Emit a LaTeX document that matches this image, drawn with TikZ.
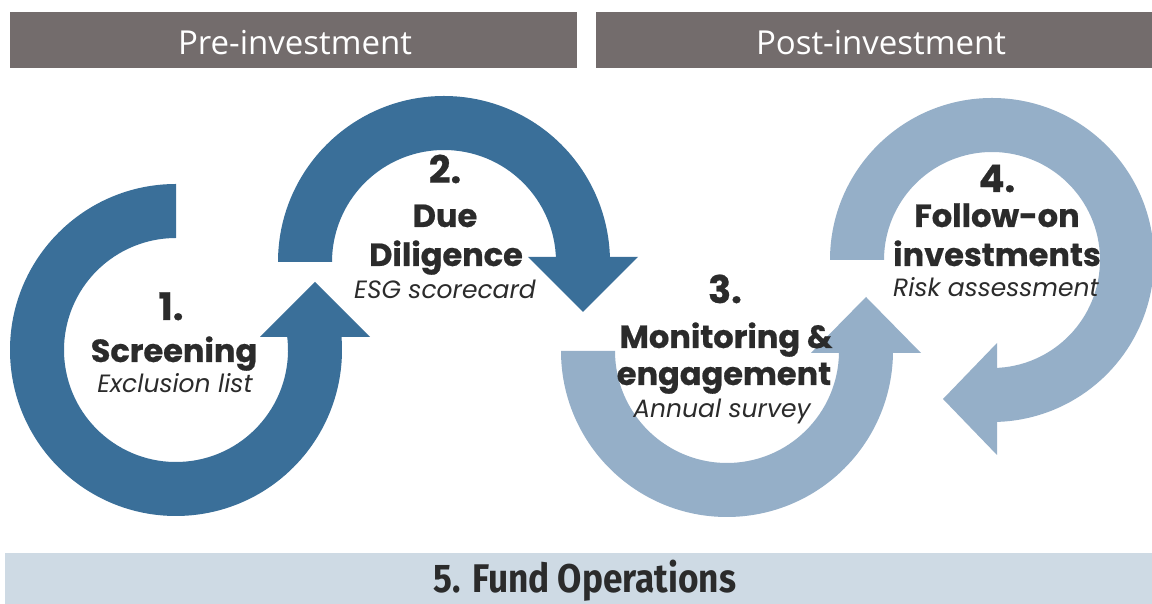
\documentclass[tikz,border=0pt]{standalone}
\usepackage{fontspec}
\setmainfont{Poppins}
\newfontfamily\heavyfont{Poppins}[BoldFeatures={FakeBold=0.6}]
\newfontfamily\headfont{Open Sans}
\newfontfamily\opsfont{Fira Sans}[FakeStretch=0.88]
\usetikzlibrary{calc}
\definecolor{dblue}{HTML}{3A6F99}
\definecolor{lblue}{HTML}{95AFC8}
\definecolor{hgray}{HTML}{736C6C}
\definecolor{bandblue}{HTML}{CEDAE4}
\definecolor{ink}{HTML}{2B2B2B}
\begin{document}
\begin{tikzpicture}[x=0.5pt,y=0.5pt,
  num/.style={anchor=base, inner sep=0pt, text=ink, font=\heavyfont\fontsize{19}{19}\selectfont\bfseries},
  ttl/.style={anchor=base, inner sep=0pt, text=ink, font=\heavyfont\fontsize{16}{16}\selectfont\bfseries},
  subt/.style={anchor=base, inner sep=0pt, text=ink, font=\fontsize{12.5}{12.5}\selectfont\itshape},
  hdrbox/.style={fill=hgray},
  hdrtxt/.style={anchor=base, inner sep=0pt, text=white, font=\headfont\fontsize{16.5}{16.5}\selectfont},
  optxt/.style={anchor=base, inner sep=0pt, text=ink, font=\opsfont\bfseries\fontsize{20}{20}\selectfont}]
\useasboundingbox (0,0) rectangle (1152,604);
\fill[white] (0,0) rectangle (1152,604);
% headers
\fill[hdrbox] (10,536) rectangle (577,592);
\fill[hdrbox] (596,536) rectangle (1152,592);
\node[hdrtxt] (pre) at (295,549) {Pre-investment};
\node[hdrtxt] (post) at (881,549) {Post-investment};
% bottom band
\fill[bandblue] (5,0) rectangle (1152,51);
\node[optxt] (ops) at (585,11) {5. Fund Operations};
% centres
\coordinate (c1) at (176,254);
\coordinate (c2) at (444,342);
\coordinate (c3) at (727,253);
\coordinate (c4) at (992,344);
% ring 1 (ccw, tail at top, head up at right)
\fill[dblue] ($(c1)+(90:166)$) arc[start angle=90, end angle=368, radius=166]
  -- ($(c1)+(368:112)$) arc[start angle=368, end angle=90, radius=112] -- cycle;
\fill[dblue] (260,267) -- (370,267) -- (315,322) -- cycle;
% ring 2 (cw, tail at left, head down at right)
\fill[dblue] ($(c2)+(180:166)$) arc[start angle=180, end angle=-5, radius=166]
  -- ($(c2)+(-5:112)$) arc[start angle=-5, end angle=180, radius=112] -- cycle;
\fill[dblue] (528,347) -- (638,347) -- (583,292) -- cycle;
% ring 3 (ccw, tail at left, head up at right)
\fill[lblue] ($(c3)+(180:166)$) arc[start angle=180, end angle=365, radius=166]
  -- ($(c3)+(365:112)$) arc[start angle=365, end angle=180, radius=112] -- cycle;
\fill[lblue] (811,251) -- (921,251) -- (866,307) -- cycle;
% ring 4 (cw, tail at left, head left at bottom)
\fill[lblue] ($(c4)+(180:162)$) arc[start angle=180, end angle=-95, radius=162]
  -- ($(c4)+(-95:108)$) arc[start angle=-95, end angle=180, radius=108] -- cycle;
\fill[lblue] (997,261) -- (997,149) -- (943,205) -- cycle;
% texts ring 1
\node[num] (n1) at (171,284) {1.};
\node[ttl] (t1) at (174,242) {Screening};
\node[subt] (s1) at (175,211) {Exclusion list};
% ring 2
\node[num] (n2) at (445,421) {2.};
\node[ttl] (t2a) at (445,377) {Due};
\node[ttl] (t2b) at (446,338) {Diligence};
\node[subt] (s2) at (445,305) {ESG scorecard};
% ring 3
\node[num] (n3) at (725,301) {3.};
\node[ttl] (t3a) at (726,256) {Monitoring \&};
\node[ttl] (t3b) at (724,219) {engagement};
\node[subt] (s3) at (722,186) {Annual survey};
% ring 4
\node[num] (n4) at (997,412) {4.};
\node[ttl] (t4a) at (997,377) {Follow-on};
\node[ttl] (t4b) at (997,338) {investments};
\node[subt] (s4) at (996,307) {Risk assessment};
\end{tikzpicture}
\end{document}
